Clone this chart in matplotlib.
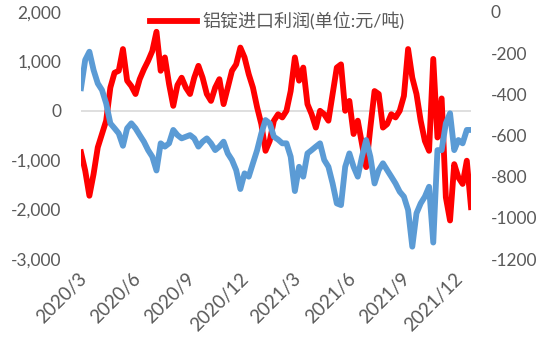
import pandas as pd
import matplotlib.pyplot as plt
import matplotlib.ticker as mticker

# weekly readings, mid Feb 2020 -> early Dec 2021
start_date = '2020-02-15'
end_date = '2021-12-09'

# 铝锭进口利润 (left axis, 元/吨)
red = [-840, -1210, -1720, -1280, -740, -470, -200, 470, 770, 810,
       1250, 610, 500, 340, 640, 840, 1010, 1210, 1600, 810,
       1080, 540, 100, 520, 670, 470, 340, 670, 910, 670,
       340, 200, 470, 640, 135, 470, 810, 940, 1280, 1080,
       740, 470, 70, -270, -810, -610, -200, -70, -135, 0,
       400, 1080, 610, 875, 135, -70, -340, 0, -70, -200,
       340, 875, 940, 0, 200, -470, -200, -670, -1140, -340,
       400, 340, -340, -270, -70, -135, 0, 300, 1250, 670,
       340, -200, -610, -810, 1050, -540, 250, -1750, -2220, -1080,
       -1350, -1480, -1010, -1950]

# second series (right axis)
blue = [-370, -233, -193, -282, -347, -379, -444, -541, -565, -590,
        -650, -565, -541, -565, -598, -630, -671, -703, -770, -638,
        -654, -638, -573, -598, -614, -606, -598, -614, -654, -630,
        -614, -638, -671, -654, -630, -687, -719, -768, -860, -784,
        -800, -735, -671, -590, -525, -541, -606, -620, -638, -638,
        -703, -870, -752, -800, -687, -671, -654, -638, -719, -752,
        -833, -930, -938, -752, -687, -752, -800, -703, -622, -703,
        -833, -768, -735, -768, -800, -833, -873, -897, -962, -1140,
        -978, -930, -897, -849, -1120, -671, -671, -541, -492, -671,
        -622, -638, -573, -573]

tick_dates = ['2020-03-01', '2020-06-01', '2020-09-01', '2020-12-01',
              '2021-03-01', '2021-06-01', '2021-09-01', '2021-12-01']
tick_labels = ['2020/3', '2020/6', '2020/9', '2020/12',
               '2021/3', '2021/6', '2021/9', '2021/12']

legend_label = '铝锭进口利润(单位:元/吨)'

dates = pd.date_range(start_date, end_date, periods=len(red))

plt.rcParams['font.family'] = ['Lato', 'Noto Sans CJK SC', 'DejaVu Sans']
plt.rcParams['axes.unicode_minus'] = False

grey = '#595959'

fig = plt.figure(figsize=(5.5, 3.42), dpi=100)
ax = fig.add_axes([81 / 550, 1 - 259 / 342, 390 / 550, 247 / 342])
ax2 = ax.twinx()

line_red, = ax.plot(dates, red, color='#FF0000', lw=4.2, solid_joinstyle='round')
ax2.plot(dates, blue, color='#5B9BD5', lw=4.2, solid_joinstyle='round')

ax.axhline(0, color='#D9D9D9', lw=1.2, zorder=0)

ax.set_xlim(dates[0], dates[-1])
ax.set_ylim(-3000, 2000)
ax.set_yticks(range(-3000, 2001, 1000))
ax.yaxis.set_major_formatter(mticker.FuncFormatter(lambda v, p: f'{int(v):,}'))
ax2.set_ylim(-1200, 0)
ax2.set_yticks(range(-1200, 1, 200))

ax.set_xticks(pd.to_datetime(tick_dates))
ax.set_xticklabels(tick_labels, rotation=45, ha='right', fontsize=13.5)

for a in (ax, ax2):
    for s in a.spines.values():
        s.set_visible(False)
    a.tick_params(length=0, labelcolor=grey)
    a.tick_params(axis='y', labelsize=12.5, pad=14)
ax.tick_params(axis='x', pad=8)

fig.legend([line_red], [legend_label], loc='center',
           bbox_to_anchor=(0.5045, 1 - 21 / 342), frameon=False,
           handlelength=2.6, handletextpad=0.3, fontsize=13,
           labelcolor=grey, borderaxespad=0)

plt.savefig('out.png', dpi=100)
